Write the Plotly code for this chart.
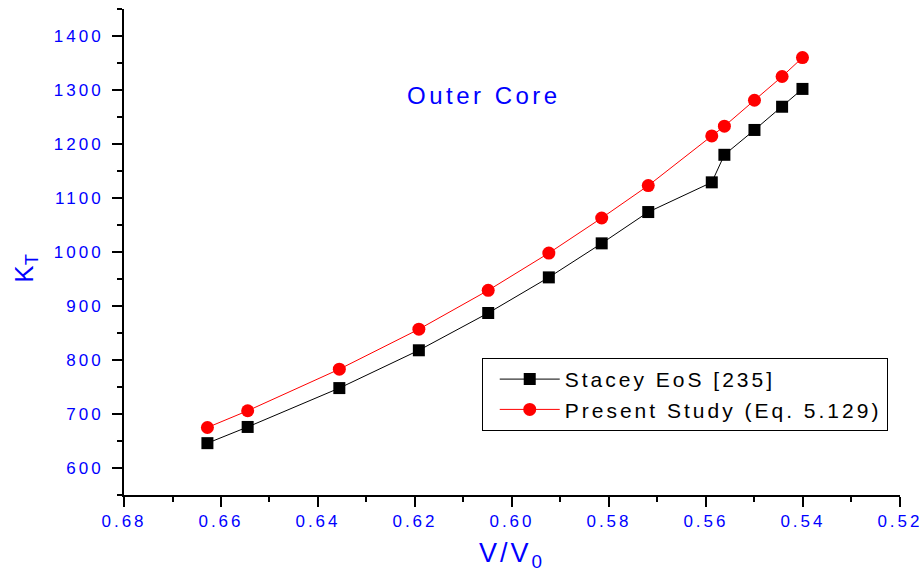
import plotly.graph_objects as go

# Relative volume V/V0 across the outer core
v_ratio = [0.6628, 0.6545, 0.6356, 0.6192, 0.6049, 0.5924, 0.5815,
           0.5719, 0.5588, 0.5562, 0.5500, 0.5443, 0.5401]

# Isothermal bulk modulus K_T
k_stacey = [646, 676, 748, 818, 887, 953, 1016, 1074, 1129, 1180, 1226, 1269, 1302]
k_present = [675, 706, 783, 857, 929, 998, 1063, 1123, 1215, 1233, 1281, 1325, 1360]

x_ticks = [0.68, 0.66, 0.64, 0.62, 0.60, 0.58, 0.56, 0.54, 0.52]
y_ticks = [600, 700, 800, 900, 1000, 1100, 1200, 1300, 1400]

FONT = "Liberation Sans, Arial, sans-serif"
BLUE = "#0000ff"


def spaced(text, px):
    return f'<span style="letter-spacing:{px}px">{text}</span>'


fig = go.Figure()
fig.add_trace(go.Scatter(
    x=v_ratio, y=k_stacey, mode="lines+markers",
    name=spaced("Stacey EoS [235]", 3),
    line=dict(color="black", width=1),
    marker=dict(symbol="square", size=12, color="black"),
))
fig.add_trace(go.Scatter(
    x=v_ratio, y=k_present, mode="lines+markers",
    name=spaced("Present Study (Eq. 5.129)", 3),
    line=dict(color="red", width=1),
    marker=dict(symbol="circle", size=13, color="red"),
))

axis_common = dict(
    showline=True, linecolor="black", linewidth=2,
    ticks="outside", ticklen=10, tickwidth=2, tickcolor="black",
    showgrid=False, zeroline=False, mirror=False,
    tickfont=dict(family=FONT, size=17, color=BLUE),
    ticklabeloverflow="allow", automargin=False,
)

fig.update_xaxes(
    range=[0.68, 0.51999], autorange=False,
    tickmode="array", tickvals=x_ticks,
    ticktext=[spaced(f"{v:.2f}", 3) for v in x_ticks],
    minor=dict(tickmode="linear", tick0=0.67, dtick=0.02, ticks="outside",
               ticklen=5, tickwidth=2, tickcolor="black"),
    title=dict(text=spaced("V/V<sub>0</sub>", 3),
               font=dict(family=FONT, size=27, color=BLUE), standoff=13),
    **axis_common,
)
fig.update_yaxes(
    range=[550, 1450], autorange=False,
    tickmode="array", tickvals=y_ticks,
    ticktext=[spaced(str(v), 3) for v in y_ticks],
    minor=dict(tickmode="linear", tick0=550, dtick=100, ticks="outside",
               ticklen=5, tickwidth=2, tickcolor="black"),
    ticklabelstandoff=5,
    **axis_common,
)

fig.add_annotation(
    text="K<sub>T</sub>", textangle=-90, showarrow=False,
    xref="paper", yref="paper", x=-0.128, y=0.465,
    xanchor="center", yanchor="middle",
    font=dict(family=FONT, size=26, color=BLUE),
)
fig.add_annotation(
    text=spaced("Outer Core", 3.5), showarrow=False,
    xref="paper", yref="paper", x=0.4635, y=0.821,
    xanchor="center", yanchor="middle",
    font=dict(family=FONT, size=24, color=BLUE),
)

fig.update_layout(
    width=919, height=575,
    margin=dict(l=124, r=19, t=9, b=80, autoexpand=False),
    paper_bgcolor="white", plot_bgcolor="white",
    showlegend=True,
    legend=dict(
        x=0.461, y=0.282, xanchor="left", yanchor="top",
        bordercolor="black", borderwidth=1, bgcolor="white",
        font=dict(family=FONT, size=21, color="black"),
        itemwidth=60, tracegroupgap=0, indentation=12,
    ),
)

fig.write_html("out.html")
